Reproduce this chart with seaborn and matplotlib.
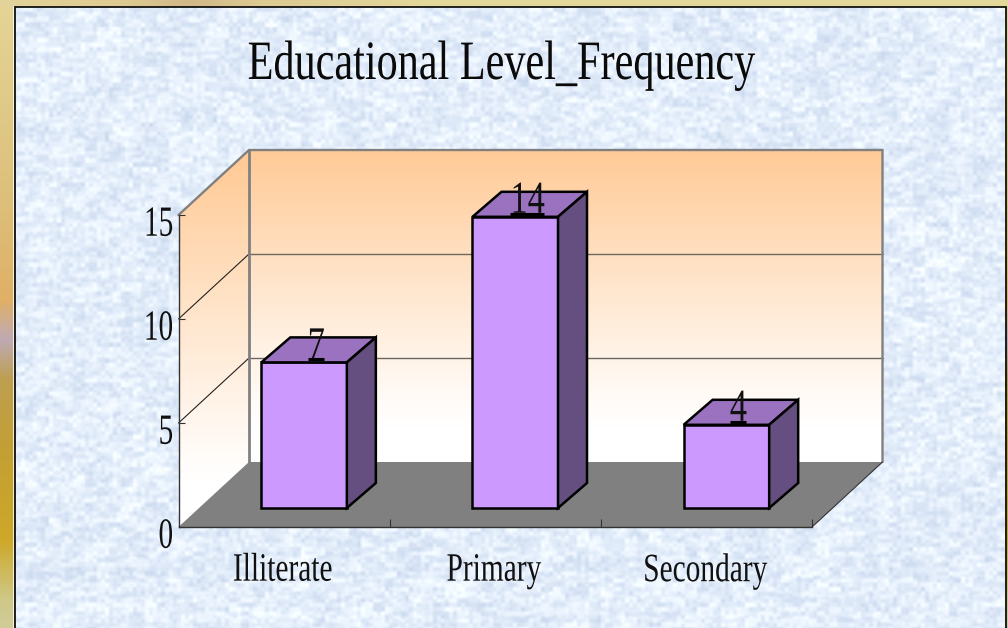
import numpy as np
import pandas as pd
import matplotlib
matplotlib.use("Agg")
import matplotlib.pyplot as plt
import seaborn as sns
from matplotlib.colors import to_rgb
from matplotlib.lines import Line2D
from matplotlib.patches import Polygon
from matplotlib.patheffects import AbstractPathEffect
from matplotlib.transforms import Affine2D, IdentityTransform

# ---- data ----
categories = ["Illiterate", "Primary", "Secondary"]
frequency = [7, 14, 4]
y_ticks = [0, 5, 10, 15]
title = "Educational Level_Frequency"

W, H = 1008, 628
SERIF = "Liberation Serif"
FRONT, TOP, SIDE = "#CC99FF", "#9A72C0", "#654F80"
WALL_EDGE = "#808080"
WALL_DX, WALL_DY = 70.5, 65      # wall depth, px
BAR_DX, BAR_DY = 20, 19          # bar set back from the front plane, px
BOX_DX, BOX_DY = 29, 25          # bar depth, px


class Condense(AbstractPathEffect):
    """Narrow a text horizontally, as the original's condensed serif."""
    def __init__(self, sx, anchor="center"):
        super().__init__()
        self.sx, self.anchor = sx, anchor

    def draw_path(self, renderer, gc, tpath, affine, rgbFace=None):
        box = tpath.transformed(affine).get_extents()
        cx = box.x1 if self.anchor == "right" else 0.5 * (box.x0 + box.x1)
        squeeze = Affine2D().translate(-cx, 0).scale(self.sx, 1).translate(cx, 0)
        renderer.draw_path(gc, tpath, affine + squeeze, rgbFace)


sns.set_theme(style="white")
fig = plt.figure(figsize=(W / 100, H / 100), dpi=100)

# ---- page background, in pixel coordinates ----
bg = fig.add_axes([0, 0, 1, 1], zorder=0)
bg.axis("off")


def cell_hash(ix, iy):
    v = np.sin(12.9898 * ix + 78.233 * iy) * 43758.5453
    return v - np.floor(v)


def soften(a, n=3):
    out = a.copy()
    for axis in (0, 1):
        out = sum(np.roll(out, k, axis=axis) for k in range(n)) / n
    return out


yy, xx = np.mgrid[0:H, 0:W]
tex = (0.45 * cell_hash(xx // 4, yy // 4)
       + 0.40 * cell_hash(xx // 12 + 7, yy // 5 + 3)
       + 0.15 * cell_hash(xx // 28 + 5, yy // 24 + 11)) - 0.5
tex = soften(tex)
base = np.array([228, 238, 251.0]) / 255
amp = np.array([55, 45, 26.0]) / 255
panel = np.clip(base + tex[..., None] * amp, 0, 1)

frame_stops = [(0, "#E4D596"), (200, "#DCC07A"), (300, "#E0B066"), (340, "#BFAAB4"),
               (380, "#BE9F50"), (450, "#C3A034"), (540, "#CDA828"), (600, "#CFC888"),
               (628, "#D0CC98")]
pos = [s[0] for s in frame_stops]
cols = np.array([to_rgb(s[1]) for s in frame_stops])
frame_col = np.stack([np.interp(H - yy[:, 0], pos, cols[:, c]) for c in range(3)], axis=1)
page = np.repeat(frame_col[:, None, :], W, axis=1)
strip_pos = [0, 120, 190, 260, 420, W]
strip_cols = np.array([to_rgb(c) for c in
                       ("#E2D49A", "#DFCB92", "#D2B888", "#DCCB92", "#E4D79A", "#E4D79A")])
strip = np.stack([np.interp(xx[0], strip_pos, strip_cols[:, c]) for c in range(3)], axis=1)
page[H - 7:, :] = strip
page[:H - 7, 15:1005] = panel[:H - 7, 15:1005]
bg.imshow(page, extent=(0, W, 0, H), origin="lower", aspect="auto",
          interpolation="nearest", zorder=0)
bg.add_line(Line2D([14.5, 14.5, 1005.5, 1005.5], [0, H - 6.5, H - 6.5, 0],
                   color="#111111", lw=1.3, zorder=1, solid_joinstyle="miter"))
bg.add_line(Line2D([13.2, 13.2], [0, H - 6], color="#FFFBEF", lw=0.6, zorder=1))
bg.set_xlim(0, W)
bg.set_ylim(0, H)

# ---- chart axes: the front plane of the 3-D box ----
ax = fig.add_axes([178.5 / W, (H - 527) / H, 633.5 / W, 312 / H], zorder=1)
ax.patch.set_alpha(0)
df = pd.DataFrame({"level": categories, "freq": frequency})
sns.barplot(data=df, x="level", y="freq", order=categories, color=FRONT, saturation=1,
            width=0.405, edgecolor="black", linewidth=1.8, ax=ax)
ax.set_xlim(-0.5, len(categories) - 0.5)
ax.set_ylim(y_ticks[0], y_ticks[-1])
ax.set_xlabel("")
ax.set_ylabel("")
ax.set_yticks(y_ticks)
ax.set_xticks(np.arange(len(categories)))
ax.set_xticklabels(categories)
ax.set_xticks(np.arange(len(categories)) + 0.5, minor=True)
for side in ("top", "right"):
    ax.spines[side].set_visible(False)
for side in ("left", "bottom"):
    ax.spines[side].set_color("#333333")
    ax.spines[side].set_linewidth(1.0)
ax.tick_params(axis="y", direction="in", length=4, width=0.8, color="#333333", pad=3.5,
               left=True)
ax.tick_params(axis="x", which="major", length=0, pad=18.5)
ax.tick_params(axis="x", which="minor", direction="in", length=6, width=0.8, color="#333333",
               bottom=True)
for lab in ax.get_xticklabels():
    lab.set(family=SERIF, fontsize=29, color="#111111")
    lab.set_path_effects([Condense(0.73)])
    lab.set_transform(lab.get_transform() + Affine2D().translate(-1.5, 0))
for lab in ax.get_yticklabels():
    lab.set(family=SERIF, fontsize=31, color="#111111")
    lab.set_path_effects([Condense(0.68, "right")])
    lab.set_transform(lab.get_transform() + Affine2D().translate(0, -6))

# ---- walls and floor, derived from the axes' own scale ----
fig.canvas.draw()


def to_px(x, y, dx=0.0, dy=0.0):
    p = ax.transData.transform((x, y))
    return p[0] + dx, p[1] + dy


xl, xr = ax.get_xlim()
ymin, ymax = ax.get_ylim()
A = to_px(xl, ymin)
B = to_px(xr, ymin)
C = to_px(xl, ymax)
A2 = to_px(xl, ymin, WALL_DX, WALL_DY)
B2 = to_px(xr, ymin, WALL_DX, WALL_DY)
C2 = to_px(xl, ymax, WALL_DX, WALL_DY)
D2 = to_px(xr, ymax, WALL_DX, WALL_DY)


def gradient_poly(points, y_white, y_top):
    """White up to y_white, rising to peach at y_top (display y)."""
    rows = np.linspace(A[1], D2[1], 300)
    ramp = np.clip((rows - y_white) / (y_top - y_white), 0, 1) ** 1.1
    top, bottom = np.array(to_rgb("#FFCA96")), np.ones(3)
    img = (bottom + (top - bottom) * ramp[:, None])[:, None, :]
    im = bg.imshow(img, extent=(A[0], B2[0], A[1], D2[1]), origin="lower", aspect="auto",
                   interpolation="bilinear", zorder=2)
    clip = Polygon(points, closed=True, transform=bg.transData, fc="none", ec="none")
    bg.add_patch(clip)
    im.set_clip_path(clip)


gradient_poly([A2, B2, D2, C2], A2[1] + 35, D2[1])
gradient_poly([A, A2, C2, C], A[1] + 45, C2[1] - 10)
bg.add_patch(Polygon([A, B, B2, A2], closed=True, fc="#808080", ec="none", zorder=3))
for level in y_ticks[1:-1]:
    f = to_px(xl, level)
    l2 = to_px(xl, level, WALL_DX, WALL_DY)
    r2 = to_px(xr, level, WALL_DX, WALL_DY)
    bg.add_line(Line2D([f[0], l2[0]], [f[1], l2[1]], color="#222222", lw=0.8, zorder=3))
    bg.add_line(Line2D([l2[0], r2[0]], [l2[1], r2[1]], color="#6E6660", lw=1.0, zorder=3))
bg.add_line(Line2D([C[0], C2[0], D2[0], B2[0]], [C[1], C2[1], D2[1], B2[1]],
                   color=WALL_EDGE, lw=1.7, zorder=4, solid_joinstyle="miter"))
bg.add_line(Line2D([A2[0], C2[0]], [A2[1], C2[1]], color=WALL_EDGE, lw=2.0, zorder=4))
bg.add_line(Line2D([B2[0], B[0]], [B2[1], B[1]], color="#333333", lw=0.8, zorder=4))
bg.set_xlim(0, W)
bg.set_ylim(0, H)

# ---- bars: seaborn's rectangles set back in depth, with top and side faces ----
shift = ax.transData + Affine2D().translate(BAR_DX, BAR_DY)
px = IdentityTransform()
for bar, value in zip(ax.patches, frequency):
    bar.set_transform(shift)
    bar.set_clip_on(False)
    bar.set_zorder(3)
    bar.set_joinstyle("miter")
    x0, x1 = bar.get_x(), bar.get_x() + bar.get_width()
    (lx, by), (rx, ty) = shift.transform([(x0, 0), (x1, bar.get_height())])
    faces = [([(lx, ty), (rx, ty), (rx + BOX_DX, ty + BOX_DY), (lx + BOX_DX, ty + BOX_DY)], TOP),
             ([(rx, by), (rx + BOX_DX, by + BOX_DY), (rx + BOX_DX, ty + BOX_DY), (rx, ty)], SIDE)]
    for pts, colour in faces:
        ax.add_patch(Polygon(pts, closed=True, transform=px, fc=colour, ec="black", lw=1.8,
                             joinstyle="miter", clip_on=False, zorder=3))
    label = str(value)
    cx = 0.5 * (lx + rx) + 12
    half = 8 if len(label) == 1 else 17
    ax.add_line(Line2D([cx - half, cx + half], [ty + 3, ty + 3], transform=px, color="black",
                       lw=2.2, clip_on=False, zorder=5, solid_capstyle="butt"))
    t = ax.text(cx, ty + 4, label, transform=px, family=SERIF, fontsize=33, color="#111111",
                ha="center", va="baseline", zorder=6, clip_on=False)
    t.set_path_effects([Condense(0.75)])

fig.text(501 / W, 1 - 65 / H, title, family=SERIF, fontsize=40, color="#0A0A0A",
         ha="center", va="center", path_effects=[Condense(0.76)], zorder=5)

fig.savefig("out.png", dpi=100)
